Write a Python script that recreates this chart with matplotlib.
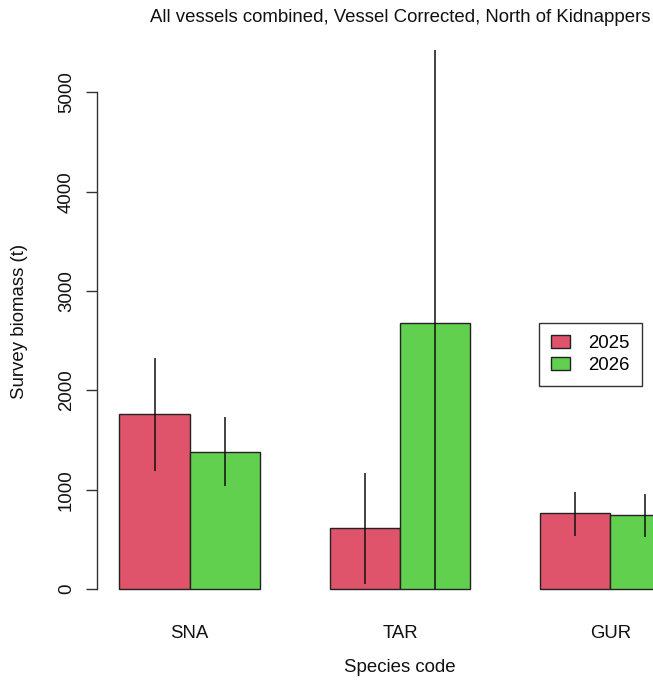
import matplotlib
matplotlib.use("Agg")
import matplotlib.pyplot as plt
from matplotlib.patches import Patch
import numpy as np

plt.rcParams["font.family"] = ["Liberation Sans", "DejaVu Sans"]
plt.rcParams["font.size"] = 13.4

# Survey biomass estimates (t) with interval bounds
species = ["SNA", "TAR", "GUR"]
years = ["2025", "2026"]
biomass_2025 = [1760, 610, 762]
biomass_2026 = [1381, 2680, 744]
lower_2025 = [1187, 50, 536]
upper_2025 = [2324, 1164, 979]
lower_2026 = [1039, 0, 526]
upper_2026 = [1733, 5423, 953]
y_ticks = [0, 1000, 2000, 3000, 4000, 5000]

col_2025 = "#DF536B"
col_2026 = "#61D04F"
FS = 13.4

W, H = 653, 680
fig = plt.figure(figsize=(W / 100, H / 100), dpi=100)

# plot region in pixels: x from 97 to 703 (runs past the right edge), y=0 at 589, y=5000 at 92.3
left_px, right_px = 97, 703
y0_px, y5000_px = 589, 92.3
ax = fig.add_axes([left_px / W, (H - y0_px) / H,
                   (right_px - left_px) / W, (y0_px - y5000_px) / H])
ax.set_xlim(0.68, 9.32)
ax.set_ylim(0, 5000)
ax.patch.set_visible(False)

groups = np.arange(len(species)) * 3 + 2.0
x_2025 = groups - 0.5
x_2026 = groups + 0.5

ax.bar(x_2025, biomass_2025, width=1.0, color=col_2025,
       edgecolor="#222222", linewidth=1.0, clip_on=False, zorder=2)
ax.bar(x_2026, biomass_2026, width=1.0, color=col_2026,
       edgecolor="#222222", linewidth=1.0, clip_on=False, zorder=2)

ax.vlines(x_2025, lower_2025, upper_2025, color="#111111", linewidth=1.1,
          clip_on=False, zorder=3)
ax.vlines(x_2026, lower_2026, upper_2026, color="#111111", linewidth=1.1,
          clip_on=False, zorder=3)

for side in ["top", "right", "bottom"]:
    ax.spines[side].set_visible(False)
ax.spines["left"].set_color("#333333")
ax.spines["left"].set_linewidth(1.0)

ax.set_yticks(y_ticks)
ax.set_yticklabels([str(v) for v in y_ticks], rotation=90, va="center")
ax.tick_params(axis="y", length=8, width=1.0, color="#333333", pad=8,
               labelsize=FS, labelcolor="#111111")

ax.set_xticks(groups)
ax.set_xticklabels(species)
ax.tick_params(axis="x", length=0, pad=26, labelsize=FS, labelcolor="#111111")

fig.text(400 / W, 1 - 18 / H,
         "All vessels combined, Vessel Corrected, North of Kidnappers",
         ha="center", va="center", fontsize=FS, color="#111111")
fig.text(20 / W, 1 - 321 / H, "Survey biomass (t)", rotation=90,
         ha="center", va="center", fontsize=FS, color="#111111")
fig.text(400 / W, 1 - 667 / H, "Species code", ha="center", va="center",
         fontsize=FS, color="#111111")

handles = [Patch(facecolor=col_2025, edgecolor="#222222", linewidth=1.0),
           Patch(facecolor=col_2026, edgecolor="#222222", linewidth=1.0)]
leg = fig.legend(handles, years, loc="upper left",
                 bbox_to_anchor=(539 / W, 1 - 323 / H),
                 fancybox=False, framealpha=1, edgecolor="#333333",
                 handlelength=1.0, handleheight=0.7, handletextpad=1.0,
                 labelspacing=0.25, borderpad=0.65, borderaxespad=0,
                 fontsize=FS)
leg.get_frame().set_linewidth(1.0)

fig.savefig("out.png", dpi=100)
